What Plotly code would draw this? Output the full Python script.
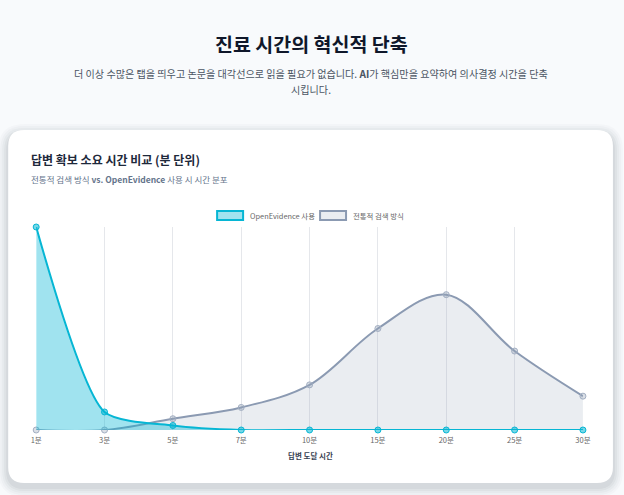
import plotly.graph_objects as go

W, H = 624, 495

categories = ["1분", "3분", "5분", "7분", "10분", "15분", "20분", "25분", "30분"]
openevidence = [90, 8, 2, 0, 0, 0, 0, 0, 0]
traditional = [0, 0, 5, 10, 20, 45, 60, 35, 15]

FONT = "Noto Sans CJK KR"
CYAN = "#06b6d4"
SLATE = "#8b9ab2"

# the photographed page comes out slightly squeezed sideways, undo it here
SX, OX = 0.978, 5.8


def px(x):
    return ((x - OX) / SX) / W


def py(y):
    return 1 - y / H


def rounded_rect(x0, y0, x1, y1, r):
    # path in paper coords, corners drawn with quadratic curves
    pts = [
        ("M", x0 + r, y0), ("L", x1 - r, y0), ("Q", x1, y0, x1, y0 + r),
        ("L", x1, y1 - r), ("Q", x1, y1, x1 - r, y1),
        ("L", x0 + r, y1), ("Q", x0, y1, x0, y1 - r),
        ("L", x0, y0 + r), ("Q", x0, y0, x0 + r, y0),
    ]
    out = []
    for p in pts:
        cmd, vals = p[0], p[1:]
        coords = []
        for i in range(0, len(vals), 2):
            coords.append("%.5f,%.5f" % (px(vals[i]), py(vals[i + 1])))
        out.append(cmd + " ".join(coords))
    return " ".join(out) + " Z"


fig = go.Figure()

fig.add_trace(
    go.Scatter(
        x=categories,
        y=traditional,
        name="전통적 검색 방식",
        mode="lines+markers",
        line=dict(color=SLATE, width=2, shape="spline", smoothing=1.0),
        marker=dict(size=6, color="rgba(148,163,184,0.35)", line=dict(color="#a3afc2", width=1)),
        fill="tozeroy",
        fillcolor="rgba(148,163,184,0.2)",
        cliponaxis=False,
        showlegend=False,
    )
)
fig.add_trace(
    go.Scatter(
        x=categories,
        y=openevidence,
        name="OpenEvidence 사용",
        mode="lines+markers",
        line=dict(color=CYAN, width=2, shape="spline", smoothing=0.65),
        marker=dict(size=6, color="rgba(6,182,212,0.55)", line=dict(color=CYAN, width=1)),
        fill="tozeroy",
        fillcolor="rgba(6,182,212,0.38)",
        cliponaxis=False,
        showlegend=False,
    )
)

shapes = []
# card shadow layers
for i, a in enumerate([0.018, 0.022, 0.028, 0.035, 0.045]):
    g = 10 - i * 2
    shapes.append(dict(
        type="path", xref="paper", yref="paper", layer="below",
        path=rounded_rect(8 - g, 130 - g + 4, 613 + g, 483 + g + 4, 16 + g),
        fillcolor="rgba(15,23,42,%.3f)" % a, line=dict(width=0),
    ))
shapes.append(dict(
    type="path", xref="paper", yref="paper", layer="below",
    path=rounded_rect(8, 130, 613, 483, 16),
    fillcolor="white", line=dict(width=0),
))
# legend boxes
for x0, fc, lc in [(217, "rgba(6,182,212,0.38)", CYAN), (320, "rgba(148,163,184,0.2)", SLATE)]:
    shapes.append(dict(
        type="rect", xref="paper", yref="paper",
        x0=px(x0), x1=px(x0 + 26), y0=py(220), y1=py(211),
        fillcolor=fc, line=dict(color=lc, width=2),
    ))

annotations = [
    dict(text="<b>진료 시간의 혁신적 단축</b>", x=px(311.5), y=py(43), font=dict(size=19.5, color="#0f172a")),
    dict(text="더 이상 수많은 탭을 띄우고 논문을 대각선으로 읽을 필요가 없습니다. <b>AI</b>가 핵심만을 요약하여 의사결정 시간을 단축",
         x=px(310.5), y=py(73), font=dict(size=10.1, color="#4b5563")),
    dict(text="시킵니다.", x=px(311), y=py(89.5), font=dict(size=10.1, color="#4b5563")),
    dict(text="<b>답변 확보 소요 시간 비교 (분 단위)</b>", x=px(29), y=py(159), xanchor="left",
         font=dict(size=12, color="#1e293b")),
    dict(text="전통적 검색 방식 <b>vs. OpenEvidence</b> 사용 시 시간 분포", x=px(29), y=py(179), xanchor="left",
         font=dict(size=8.5, color="#64748b")),
    dict(text="OpenEvidence 사용", x=px(248), y=py(215.5), xanchor="left", font=dict(size=7.4, color="#666666")),
    dict(text="전통적 검색 방식", x=px(351), y=py(215.5), xanchor="left", font=dict(size=7.4, color="#666666")),
    dict(text="<b>답변 도달 시간</b>", x=px(310), y=py(455), font=dict(size=7.5, color="#374151")),
]
for a in annotations:
    a.setdefault("xanchor", "center")
    a.update(xref="paper", yref="paper", yanchor="middle", showarrow=False)

fig.update_layout(
    width=W,
    height=H,
    autosize=False,
    margin=dict(l=0, r=0, t=0, b=0),
    paper_bgcolor="#f8fafc",
    plot_bgcolor="rgba(0,0,0,0)",
    font=dict(family=FONT),
    shapes=shapes,
    annotations=annotations,
    xaxis=dict(
        domain=[px(36), px(583)],
        type="category",
        range=[0, len(categories) - 1],
        showgrid=True,
        gridcolor="#e5e7eb",
        gridwidth=1,
        showline=False,
        zeroline=False,
        ticks="",
        tickfont=dict(size=7.5, color="#666666"),
        ticklabelstandoff=4,
        fixedrange=True,
    ),
    yaxis=dict(
        domain=[py(430), py(227)],
        range=[0, 90],
        visible=False,
        showgrid=False,
        zeroline=False,
        fixedrange=True,
    ),
)

fig.write_html(
    "out.html",
    config={"displayModeBar": False, "responsive": False},
    post_script=(
        "document.documentElement.style.overflow='hidden';"
        "document.body.style.margin='0';"
        "document.body.style.background='#f8fafc';"
        "document.body.style.overflow='hidden';"
    ),
)
